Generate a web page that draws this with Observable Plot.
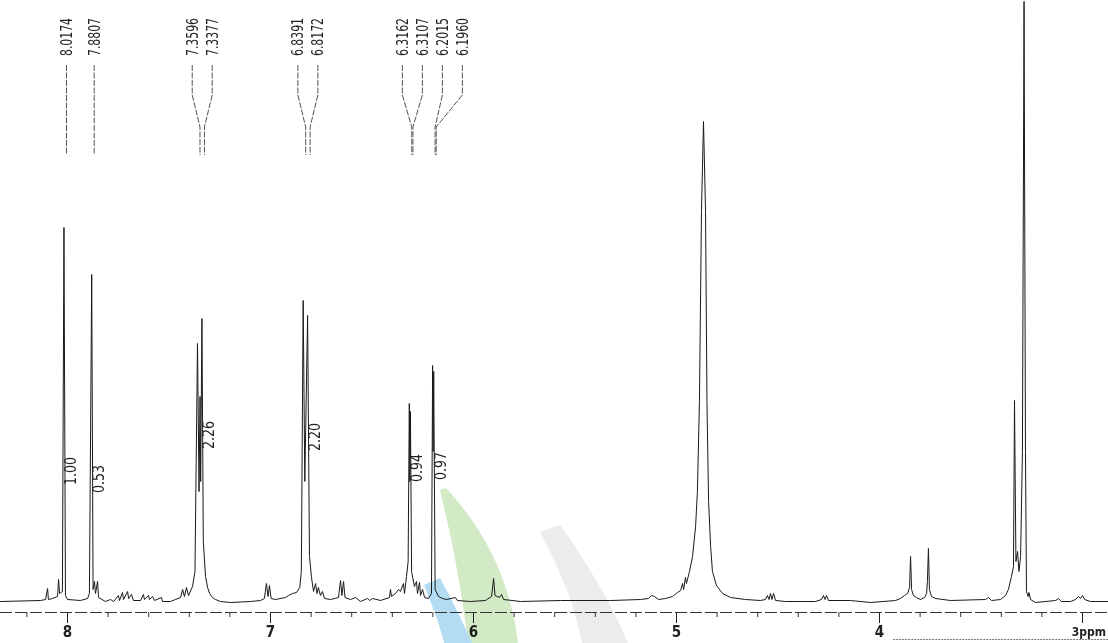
<!DOCTYPE html>
<html><head><meta charset="utf-8">
<script src="https://cdn.jsdelivr.net/npm/d3@7"></script>
<script src="https://cdn.jsdelivr.net/npm/@observablehq/plot@0.6"></script>
<style>
html,body{margin:0;padding:0;background:#fff;}
#chart{width:1108px;height:643px;overflow:hidden;}
</style></head><body><div id="chart"></div>
<script>
// 1H NMR trace: [chemical shift (ppm), intensity]
const spectrum = [
  [8.330,0],[8.133,1],[8.108,2],[8.098,13],[8.094,2],[8.074,3],[8.049,5],[8.044,22],[8.039,8],[8.025,10],
  [8.0174,374],[8.010,6],[8.000,2],[7.936,1],[7.901,3],[7.892,8],[7.8807,327],[7.874,12],[7.867,20],[7.862,8],
  [7.852,20],[7.847,4],[7.813,0],[7.788,2],[7.773,0],[7.749,6],[7.744,1],[7.729,9],[7.724,2],[7.704,10],
  [7.699,3],[7.685,7],[7.675,1],[7.640,1],[7.626,7],[7.621,2],[7.601,6],[7.596,2],[7.581,5],[7.571,1],
  [7.537,4],[7.532,0],[7.493,0],[7.468,2],[7.443,4],[7.433,12],[7.424,5],[7.414,14],[7.404,6],[7.384,15],
  [7.372,30],[7.3596,258],[7.352,110],[7.347,205],[7.344,120],[7.3377,283],[7.331,60],[7.320,25],[7.310,14],[7.300,8],
  [7.286,4],[7.271,2],[7.246,0],[7.197,-1],[7.098,0],[7.049,1],[7.030,3],[7.020,18],[7.012,5],[7.005,16],
  [6.997,3],[6.975,2],[6.926,4],[6.911,6],[6.892,8],[6.872,9],[6.856,14],[6.848,30],[6.8391,301],[6.831,120],
  [6.8172,286],[6.808,45],[6.798,24],[6.788,10],[6.778,18],[6.771,8],[6.764,14],[6.754,6],[6.744,10],[6.734,3],
  [6.704,2],[6.665,4],[6.655,21],[6.648,6],[6.640,20],[6.633,4],[6.606,2],[6.581,4],[6.557,0],[6.522,3],
  [6.512,1],[6.497,3],[6.458,1],[6.414,4],[6.409,12],[6.404,5],[6.384,8],[6.370,12],[6.360,10],[6.345,18],
  [6.340,8],[6.330,25],[6.322,40],[6.3162,198],[6.3135,120],[6.3107,190],[6.305,30],[6.291,15],[6.281,20],[6.276,8],
  [6.266,19],[6.261,6],[6.251,12],[6.241,4],[6.222,3],[6.207,8],[6.2015,236],[6.199,150],[6.1960,230],[6.189,12],
  [6.172,5],[6.153,3],[6.133,2],[6.089,4],[6.079,1],[6.015,0],[5.941,1],[5.911,5],[5.901,23],[5.894,6],
  [5.872,4],[5.862,7],[5.852,2],[5.768,0],[5.571,1],[5.325,1],[5.177,2],[5.138,3],[5.123,6],[5.108,5],
  [5.089,2],[5.054,3],[5.020,5],[4.995,9],[4.980,11],[4.970,18],[4.965,12],[4.956,24],[4.951,18],[4.936,30],
  [4.921,45],[4.906,75],[4.897,110],[4.887,200],[4.877,390],[4.867,480],[4.857,390],[4.850,200],[4.842,100],[4.832,55],
  [4.823,30],[4.803,16],[4.773,8],[4.734,4],[4.660,2],[4.586,1],[4.562,2],[4.552,6],[4.544,2],[4.537,8],
  [4.530,2],[4.522,8],[4.512,1],[4.463,0],[4.315,0],[4.286,2],[4.276,6],[4.268,2],[4.261,6],[4.251,1],
  [4.143,1],[4.044,-1],[3.921,1],[3.897,3],[3.877,6],[3.862,8],[3.852,14],[3.847,45],[3.842,12],[3.833,6],
  [3.818,4],[3.798,2],[3.778,4],[3.768,8],[3.764,20],[3.759,53],[3.754,12],[3.744,5],[3.724,3],[3.650,1],
  [3.478,2],[3.463,4],[3.448,1],[3.404,2],[3.379,6],[3.365,12],[3.350,25],[3.340,35],[3.335,201],[3.328,40],
  [3.320,50],[3.313,30],[3.305,45],[3.296,150],[3.288,600],[3.281,150],[3.276,10],[3.268,5],[3.264,9],[3.256,2],
  [3.232,-1],[3.133,1],[3.118,3],[3.103,0],[3.059,0],[3.034,2],[3.020,5],[3.010,3],[3.000,6],[2.990,2],
  [2.961,0],[2.872,0]
];

// peak-pick labels
const peakLabels = ["8.0174","7.8807","7.3596","7.3377","6.8391","6.8172","6.3162","6.3107","6.2015","6.1960"];
const peakShifts = [8.0174, 7.8807, 7.3596, 7.3377, 6.8391, 6.8172, 6.3162, 6.3107, 6.2015, 6.1960];
const peakMultiplet = [0, 1, 2, 2, 3, 3, 4, 4, 5, 5];

// integrals
const integralValues = ["1.00", "0.53", "2.26", "2.20", "0.94", "0.97"];
const integralShifts = [8.0174, 7.8807, 7.3377, 6.8172, 6.3107, 6.1960];
const integralLabelLevel = [130, 122, 166, 164, 133, 135];

// axis
const axisTicks = [8, 7, 6, 5, 4, 3];
const axisTickLabels = ["8", "7", "6", "5", "4", ""];
const lastTickLabel = "3ppm";
const minorTicks = [8.2,7.8,7.6,7.4,7.2,6.8,6.6,6.4,6.2,5.8,5.6,5.4,5.2,4.8,4.6,4.4,4.2,3.8,3.6,3.4,3.2];

const CONDENSED = "'DejaVu Sans Condensed','Liberation Sans Narrow','DejaVu Sans',sans-serif";

function logoBands() {
  const g = d3.create("svg:g").style("mix-blend-mode", "multiply");
  g.append("path").attr("d", "M440,490 C452,540 462,590 468,643 L518,643 C512,590 490,535 446,488 Z")
    .attr("fill", "#d3eac6");
  g.append("path").attr("d", "M424,585 C432,605 440,625 444,643 L472,643 C462,620 452,600 440,578 Z")
    .attr("fill", "#b3dcf2");
  g.append("path").attr("d", "M540,532 C560,570 575,605 582,643 L628,643 C610,600 585,560 560,525 Z")
    .attr("fill", "#ececec");
  return g.node();
}

function peakLabelLayer(index, scales, values, dims) {
  const x = scales.x;
  const g = d3.create("svg:g").attr("font-family", CONDENSED).attr("font-weight", "normal");
  const bottom = peakShifts.map(p => x(p) + 3);
  const gap = 20;
  const top = new Array(bottom.length);
  let i = 0;
  while (i < bottom.length) {
    let j = i;
    while (j + 1 < bottom.length && peakMultiplet[j + 1] === peakMultiplet[i]) j++;
    const n = j - i + 1;
    const c = d3.mean(bottom.slice(i, j + 1));
    for (let k = 0; k < n; k++) top[i + k] = c + (k - (n - 1) / 2) * gap;
    i = j + 1;
  }
  for (let k = 1; k < top.length; k++) top[k] = Math.max(top[k], top[k - 1] + gap);
  peakLabels.forEach((lab, k) => {
    g.append("path")
      .attr("d", `M${top[k]},65 V95 L${bottom[k]},127 V155`)
      .attr("fill", "none").attr("stroke", "#555").attr("stroke-width", 1)
      .attr("stroke-dasharray", "6,1.5");
    g.append("text")
      .attr("transform", `translate(${top[k]},56) rotate(-90)`)
      .attr("dy", "0.36em").attr("text-anchor", "start")
      .attr("font-size", 15)
      .attr("textLength", 38).attr("lengthAdjust", "spacingAndGlyphs")
      .attr("fill", "#222")
      .text(lab);
  });
  integralValues.forEach((lab, k) => {
    const tx = x(integralShifts[k]) + 7, ty = scales.y(integralLabelLevel[k]);
    g.append("text")
      .attr("transform", `translate(${tx},${ty}) rotate(-90)`)
      .attr("dy", "0.36em").attr("text-anchor", "middle")
      .attr("font-size", 15)
      .attr("textLength", 28).attr("lengthAdjust", "spacingAndGlyphs")
      .attr("fill", "#222")
      .text(lab);
  });
  // last tick label with unit, kept inside the right edge
  g.append("text")
    .attr("x", dims.width - 2)
    .attr("y", scales.y(-11) + 20)
    .attr("dy", "0.36em").attr("text-anchor", "end")
    .attr("font-size", 12).attr("font-weight", "bold")
    .attr("fill", "#222")
    .text(lastTickLabel);
  return g.node();
}

const chart = Plot.plot({
  width: 1108, height: 643,
  marginLeft: 0, marginRight: 0, marginTop: 0, marginBottom: 31,
  style: {fontFamily: CONDENSED, fontSize: "15px", fontWeight: "bold", color: "#222", background: "#fff", overflow: "hidden"},
  x: {domain: [8.330, 2.872], ticks: axisTicks, tickSize: 11, tickPadding: 3,
      tickFormat: d => axisTickLabels[axisTicks.indexOf(d)], label: null, line: false},
  y: {domain: [-11, 601], axis: null},
  marks: [
    logoBands,
    Plot.ruleY([-11], {stroke: "#333", strokeWidth: 1, strokeDasharray: "12,3"}),
    Plot.ruleX(minorTicks, {y1: -11, y2: -16, stroke: "#333"}),
    Plot.ruleY([-38], {x1: 3.93, x2: 2.872, stroke: "#777", strokeDasharray: "2,1"}),
    Plot.line(spectrum, {x: d => d[0], y: d => d[1], stroke: "#1a1a1a", strokeWidth: 1}),
    peakLabelLayer
  ]
});
document.getElementById("chart").appendChild(chart);
</script>
</body></html>
